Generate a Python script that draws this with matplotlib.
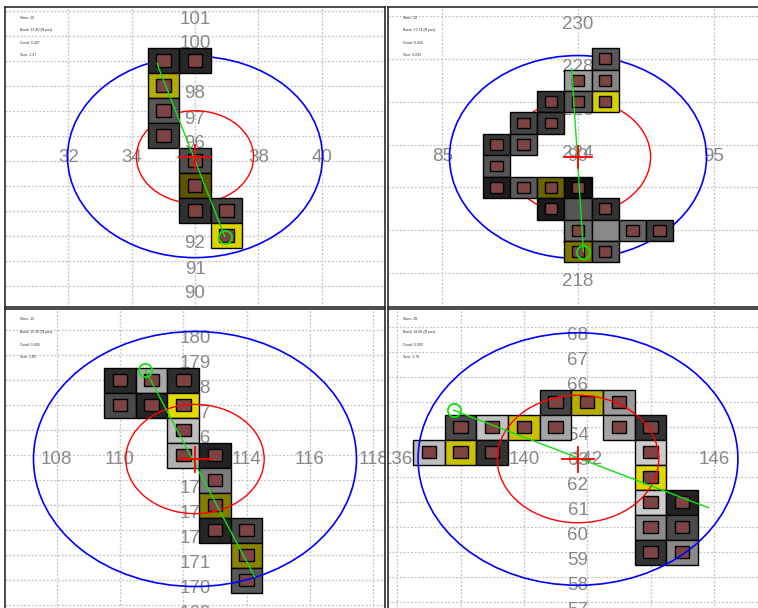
import matplotlib
matplotlib.use("Agg")
import matplotlib.pyplot as plt
from matplotlib.patches import Rectangle, Ellipse

plt.rcParams["font.family"] = ["Liberation Sans", "DejaVu Sans"]

FIG_W, FIG_H, DPI = 758, 608, 100

# ---------------- panel A (top left) ----------------
a_center = (36.0, 95.14)
a_half_span = 6.0
a_xticks = [32, 34, 36, 38, 40]
a_yticks = [90, 91, 92, 93, 94, 95, 96, 97, 98, 99, 100, 101]
a_cell_x = [35, 36, 35, 35, 35, 36, 36, 36, 37, 37]
a_cell_y = [99, 99, 98, 97, 96, 95, 94, 93, 93, 92]
a_cell_color = ["#2b2b2b", "#262626", "#b3ab00", "#575757", "#3c3c3c",
                "#4e4e4e", "#5c5400", "#303030", "#454545", "#dcd400"]
a_cell_mark = [1, 1, 1, 1, 1, 1, 1, 1, 1, 1]
a_track_x = [34.8, 36.94]
a_track_y = [98.88, 91.96]
a_ring_end = 1
a_inner_diam = 3.7
a_outer_diam = 8.05
a_info = ["Sites: 10", "Band: 13.40 (N pos)", "Good: 0.407", "Size: 1.37"]

# ---------------- panel B (top right) ----------------
b_center = (90.0, 223.42)
b_half_span = 7.0
b_xticks = [85, 90, 95]
b_yticks = [218, 220, 222, 224, 226, 228, 230]
b_cell_x = [91, 90, 91, 89, 90, 91, 88, 89, 87, 88, 87, 87, 88, 89, 90,
            89, 90, 91, 90, 91, 92, 93, 90, 91]
b_cell_y = [228, 227, 227, 226, 226, 226, 225, 225, 224, 224, 223, 222, 222, 222, 222,
            221, 221, 221, 220, 220, 220, 220, 219, 219]
b_cell_color = ["#575757", "#9c9c9c", "#858585", "#333333", "#595959", "#d6ce00",
                "#454545", "#3b3b3b", "#363636", "#585858", "#555555", "#1f1f1f",
                "#5a5a5a", "#6b6300", "#111111", "#1a1a1a", "#555555", "#333333",
                "#6a6a6a", "#888888", "#666666", "#404040", "#7d7500", "#585858"]
b_cell_mark = [1, 1, 1, 1, 1, 1, 1, 1, 1, 1, 1, 1, 1, 1, 1, 1, 0, 1, 1, 0, 1, 1, 1, 1]
b_track_x = [89.77, 90.2]
b_track_y = [227.54, 219.0]
b_ring_end = 1
b_inner_diam = 5.35
b_outer_diam = 9.47
b_info = ["Sites: 22", "Band: 17.74 (N pos)", "Good: 0.435", "Size: 0.035"]

# ---------------- panel C (bottom left) ----------------
c_center = (112.37, 174.84)
c_half_span = 6.0
c_xticks = [108, 110, 112, 114, 116, 118]
c_yticks = [169, 170, 171, 172, 173, 174, 175, 176, 177, 178, 179, 180]
c_cell_x = [110, 111, 112, 110, 111, 112, 112, 112, 113, 113, 113, 113, 114, 114, 114]
c_cell_y = [178, 178, 178, 177, 177, 177, 176, 175, 175, 174, 173, 172, 172, 171, 170]
c_cell_color = ["#2a2a2a", "#a8a8a8", "#2e2e2e", "#4a4a4a", "#262626", "#e0da00",
                "#bdbdbd", "#b0b0b0", "#222222", "#7d7d7d", "#857d00", "#262626",
                "#474747", "#8a8200", "#585858"]
c_cell_mark = [1] * 15
c_track_x = [110.8, 114.26]
c_track_y = [178.4, 170.12]
c_ring_end = 0
c_inner_diam = 4.37
c_outer_diam = 10.2
c_info = ["Sites: 15", "Band: 10.16 (N pos)", "Good: 0.405", "Size: 1.85"]

# ---------------- panel D (bottom right) ----------------
d_center = (141.71, 62.72)
d_half_span = 6.0
d_xticks = [136, 138, 140, 142, 144, 146]
d_yticks = [57, 58, 59, 60, 61, 62, 63, 64, 65, 66, 67, 68]
d_cell_x = [141, 142, 143, 138, 139, 140, 141, 143, 144, 137, 138, 139, 144,
            144, 144, 145, 144, 145, 144, 145]
d_cell_y = [65, 65, 65, 64, 64, 64, 64, 64, 64, 63, 63, 63, 63,
            62, 61, 61, 60, 60, 59, 59]
d_cell_color = ["#444444", "#b5ad00", "#9a9a9a", "#4a4a4a", "#c2c2c2", "#c8c000",
                "#a5a5a5", "#a5a5a5", "#333333", "#bdbdbd", "#c8c000", "#333333",
                "#cccccc", "#e0d800", "#cccccc", "#222222", "#8a8a8a", "#4a4a4a",
                "#333333", "#8a8a8a"]
d_cell_mark = [1] * 20
d_track_x = [137.78, 145.83]
d_track_y = [64.67, 60.77]
d_ring_end = 0
d_inner_diam = 5.1
d_outer_diam = 10.1
d_info = ["Sites: 28", "Band: 18.66 (N pos)", "Good: 0.000", "Size: 1.78"]

panels = [
    dict(center=a_center, half=a_half_span, xticks=a_xticks, yticks=a_yticks,
         cx=a_cell_x, cy=a_cell_y, colors=a_cell_color, marks=a_cell_mark,
         tx=a_track_x, ty=a_track_y, ring=a_ring_end, d_in=a_inner_diam,
         d_out=a_outer_diam, info=a_info),
    dict(center=b_center, half=b_half_span, xticks=b_xticks, yticks=b_yticks,
         cx=b_cell_x, cy=b_cell_y, colors=b_cell_color, marks=b_cell_mark,
         tx=b_track_x, ty=b_track_y, ring=b_ring_end, d_in=b_inner_diam,
         d_out=b_outer_diam, info=b_info),
    dict(center=c_center, half=c_half_span, xticks=c_xticks, yticks=c_yticks,
         cx=c_cell_x, cy=c_cell_y, colors=c_cell_color, marks=c_cell_mark,
         tx=c_track_x, ty=c_track_y, ring=c_ring_end, d_in=c_inner_diam,
         d_out=c_outer_diam, info=c_info),
    dict(center=d_center, half=d_half_span, xticks=d_xticks, yticks=d_yticks,
         cx=d_cell_x, cy=d_cell_y, colors=d_cell_color, marks=d_cell_mark,
         tx=d_track_x, ty=d_track_y, ring=d_ring_end, d_in=d_inner_diam,
         d_out=d_outer_diam, info=d_info),
]

# panel boxes in pixels: left, top, width, height
boxes = [(5, 7, 380, 300), (388, 7, 380, 300), (5, 309, 380, 300), (388, 309, 380, 300)]
rings_above_cells = [False, False, True, True]

GRID = "#c4c4c4"
LABEL = "#888888"

fig = plt.figure(figsize=(FIG_W / DPI, FIG_H / DPI), dpi=DPI)
fig.patch.set_facecolor("white")


def draw_panel(ax, p, rings_top):
    cx, cy = p["center"]
    s = p["half"]
    ax.set_xlim(cx - s, cx + s)
    ax.set_ylim(cy - s, cy + s)
    ax.set_xticks([])
    ax.set_yticks([])
    ax.set_facecolor("white")
    for sp in ax.spines.values():
        sp.set_color("#1a1a1a")
        sp.set_linewidth(1.1)

    for t in p["xticks"]:
        ax.axvline(t, color=GRID, lw=0.9, ls=(0, (1.6, 1.4)), zorder=1)
    for t in p["yticks"]:
        ax.axhline(t, color=GRID, lw=0.9, ls=(0, (1.6, 1.4)), zorder=1)

    for t in p["xticks"]:
        ax.text(t, cy, str(t), ha="center", va="center", fontsize=13.5,
                color=LABEL, zorder=2, clip_on=True)
    for t in p["yticks"]:
        ax.text(cx, t, str(t), ha="center", va="top", fontsize=13.5,
                color=LABEL, zorder=2, clip_on=True)

    for x, y, c, m in zip(p["cx"], p["cy"], p["colors"], p["marks"]):
        ax.add_patch(Rectangle((x - 0.5, y - 0.5), 1, 1, facecolor=c,
                               edgecolor="black", lw=1.0, zorder=3))
        if m:
            ax.add_patch(Rectangle((x - 0.23, y - 0.25), 0.46, 0.5,
                                   facecolor="#7d4444", edgecolor="black",
                                   lw=1.0, zorder=3.1))

    rz = 4 if rings_top else 2.5
    ax.add_patch(Ellipse((cx, cy), p["d_out"], p["d_out"], fill=False,
                         edgecolor="#0000ff", lw=1.2, zorder=rz))
    ax.add_patch(Ellipse((cx, cy), p["d_in"], p["d_in"], fill=False,
                         edgecolor="#ff0000", lw=1.0, zorder=rz))

    ax.plot(p["tx"], p["ty"], color="#11e011", lw=1.0, zorder=5)
    i = p["ring"]
    ax.plot([p["tx"][i]], [p["ty"][i]], marker="o", ms=9.5, mfc="none",
            mec="#11e011", mew=1.3, zorder=5)

    ax.plot([cx - 0.5, cx + 0.5], [cy, cy], color="#ff0000", lw=1.3, zorder=5)
    ax.plot([cx, cx], [cy - 0.5, cy + 0.5], color="#ff0000", lw=1.3, zorder=5)

    for k, line in enumerate(p["info"]):
        ax.text(0.04, 0.965 - k * 0.042, line, transform=ax.transAxes,
                fontsize=2.6, color="#333333", ha="left", va="center", zorder=6)


for p, (l, t, w, h), rt in zip(panels, boxes, rings_above_cells):
    ax = fig.add_axes([l / FIG_W, 1 - (t + h) / FIG_H, w / FIG_W, h / FIG_H])
    draw_panel(ax, p, rt)

fig.savefig("out.png", dpi=DPI, facecolor="white")
